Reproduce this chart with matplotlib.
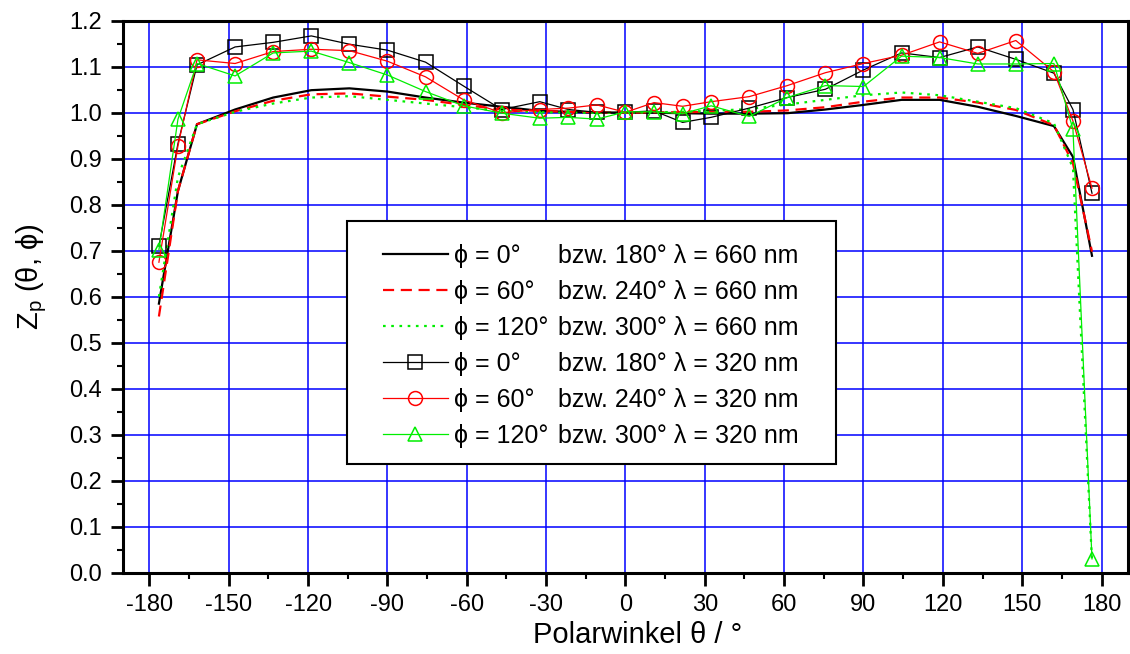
import matplotlib
matplotlib.use("Agg")
import matplotlib.pyplot as plt
from matplotlib.patches import Rectangle
from matplotlib.ticker import MultipleLocator, FormatStrFormatter

plt.rcParams["font.family"] = ["Liberation Sans", "DejaVu Sans"]
plt.rcParams["mathtext.fontset"] = "custom"
plt.rcParams["mathtext.rm"] = "Liberation Sans"
plt.rcParams["axes.unicode_minus"] = False

# polar angle grid (deg)
theta = [-176.4, -169.2, -162.0, -147.6, -133.2, -118.8, -104.4, -90.0, -75.6, -61.2,
         -46.8, -32.4, -21.6, -10.8, 0.0, 10.8, 21.6, 32.4, 46.8, 61.2, 75.6, 90.0,
         104.4, 118.8, 133.2, 147.6, 162.0, 169.2, 176.4]

# lambda = 660 nm
z660_phi0 = [0.585, 0.83, 0.975, 1.007, 1.033, 1.049, 1.053, 1.046, 1.033, 1.022,
             1.013, 1.004, 1.002, 1.000, 1.000, 1.000, 0.999, 0.998, 0.998, 0.999,
             1.007, 1.017, 1.028, 1.028, 1.013, 0.993, 0.971, 0.904, 0.689]
z660_phi60 = [0.557, 0.83, 0.975, 1.003, 1.026, 1.040, 1.042, 1.035, 1.028, 1.017,
              1.007, 1.004, 1.002, 1.001, 1.000, 1.001, 1.001, 1.002, 1.002, 1.005,
              1.012, 1.024, 1.033, 1.033, 1.022, 1.006, 0.973, 0.89, 0.698]
z660_phi120 = [0.600, 0.86, 0.975, 1.002, 1.020, 1.033, 1.036, 1.028, 1.020, 1.012,
               1.004, 1.001, 1.000, 1.000, 1.000, 1.001, 1.002, 1.004, 1.008, 1.018,
               1.028, 1.038, 1.044, 1.038, 1.024, 1.010, 0.977, 0.88, 0.025]

# lambda = 320 nm
z320_phi0 = [0.710, 0.933, 1.104, 1.143, 1.153, 1.167, 1.149, 1.136, 1.110, 1.058,
             1.007, 1.024, 1.007, 1.001, 1.001, 1.004, 0.979, 0.990, 1.010, 1.033,
             1.051, 1.093, 1.130, 1.120, 1.143, 1.116, 1.086, 1.007, 0.825]
z320_phi60 = [0.675, 0.928, 1.115, 1.107, 1.133, 1.138, 1.135, 1.112, 1.078, 1.028,
              1.000, 1.007, 1.010, 1.017, 1.001, 1.022, 1.014, 1.024, 1.035, 1.059,
              1.087, 1.107, 1.125, 1.154, 1.129, 1.157, 1.089, 0.982, 0.836]
z320_phi120 = [0.702, 0.986, 1.107, 1.080, 1.130, 1.134, 1.109, 1.082, 1.046, 1.015,
               0.999, 0.988, 0.990, 0.986, 1.002, 1.002, 0.998, 1.015, 0.992, 1.033,
               1.059, 1.057, 1.123, 1.120, 1.106, 1.106, 1.107, 0.964, 0.030]

phi_labels = ["\u03d5 = 0\u00b0", "\u03d5 = 60\u00b0", "\u03d5 = 120\u00b0"]
bzw_labels = ["bzw. 180\u00b0", "bzw. 240\u00b0", "bzw. 300\u00b0"]
wl_labels = ["\u03bb = 660 nm", "\u03bb = 320 nm"]

fig = plt.figure(figsize=(11.3, 6.54), dpi=100)
ax = fig.add_axes([0.1088, 0.1243, 0.8894, 0.844])

ax.plot(theta, z660_phi0, color="black", lw=1.6, ls="-")
ax.plot(theta, z660_phi60, color="red", lw=1.6, ls=(0, (5, 3)))
ax.plot(theta, z660_phi120, color="#00ee00", lw=1.6, ls=(0, (1.2, 2.5)))
mk = dict(mfc="none", ms=10, mew=1.1, lw=0.9)
ax.plot(theta, z320_phi0, color="black", marker="s", **mk)
ax.plot(theta, z320_phi60, color="red", marker="o", **mk)
ax.plot(theta, z320_phi120, color="#00ee00", marker="^", **mk)

ax.set_xlim(-190, 190)
ax.set_ylim(0, 1.2)
ax.xaxis.set_major_locator(MultipleLocator(30))
ax.xaxis.set_minor_locator(MultipleLocator(15))
ax.yaxis.set_major_locator(MultipleLocator(0.1))
ax.yaxis.set_minor_locator(MultipleLocator(0.05))
ax.yaxis.set_major_formatter(FormatStrFormatter("%.1f"))
ax.grid(True, which="major", color="#0000ff", lw=1.1)
ax.set_axisbelow(True)
ax.tick_params(which="major", direction="out", length=9, width=2, labelsize=17, pad=6)
ax.tick_params(which="minor", direction="out", length=4.5, width=1.5)
for s in ax.spines.values():
    s.set_linewidth(2.2)

ax.set_xlabel("Polarwinkel \u03b8 / \u00b0", fontsize=21)
ax.xaxis.set_label_coords(0.512, -0.0875)
ax.set_ylabel("Z$_\\mathregular{p}$ (\u03b8, \u03d5)", fontsize=21)
ax.yaxis.set_label_coords(-0.074, 0.536)

# legend frame drawn separately, entries placed inside
ax.add_patch(Rectangle((0.2229, 0.1969), 0.4866, 0.4402, transform=ax.transAxes,
                       facecolor="white", edgecolor="black", lw=1.5, zorder=5))
labels = [phi_labels[i % 3] for i in range(6)]
leg = ax.legend(ax.get_lines(), labels, loc="upper left",
                bbox_to_anchor=(0.2587, 0.596), frameon=False,
                fontsize=18, handlelength=2.6, numpoints=1, labelspacing=0.48,
                borderpad=0, borderaxespad=0, handletextpad=0.25)
leg.set_zorder(6)

fig.canvas.draw()
inv = fig.transFigure.inverted()
x_bzw = ax.transAxes.transform((0.433, 0))[0]
for i, t in enumerate(leg.get_texts()):
    bb = t.get_window_extent()
    yc = (bb.y0 + bb.y1) / 2
    txt = bzw_labels[i % 3] + " " + wl_labels[i // 3]
    fx, fy = inv.transform((x_bzw, yc))
    fig.text(fx, fy, txt, fontsize=18, va="center", ha="left", zorder=7)

fig.savefig("out.png", dpi=100)
